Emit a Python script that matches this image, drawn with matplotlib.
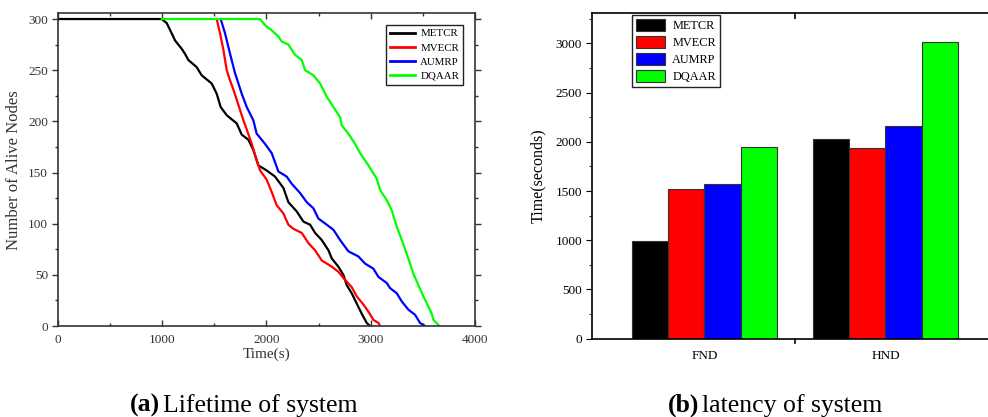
import numpy as np
import matplotlib
matplotlib.use("Agg")
import matplotlib.pyplot as plt
from matplotlib.ticker import MultipleLocator, FixedLocator

plt.rcParams['font.family'] = ['Liberation Serif', 'DejaVu Serif']

# ---- data: (a) lifetime, alive nodes vs time ----
metcr_t = [0, 997, 1045, 1093, 1125, 1188, 1220, 1252, 1332, 1380, 1476, 1524, 1562, 1620,
           1716, 1764, 1828, 1875, 1923, 2003, 2083, 2163, 2211, 2291, 2355, 2419, 2467,
           2531, 2595, 2627, 2690, 2738, 2770, 2818, 2866, 2914, 2962, 2994]
metcr_n = [300, 300, 296, 286, 279, 271, 266, 260, 253, 245, 237, 227, 214, 206,
           198, 187, 182, 172, 157, 152, 146, 135, 121, 112, 102, 99, 91,
           84, 74, 66, 58, 50, 40, 32, 22, 12, 3, 0]

mvecr_t = [1524, 1556, 1588, 1620, 1652, 1684, 1716, 1748, 1780, 1812, 1860, 1908, 1940,
           2003, 2051, 2099, 2163, 2211, 2259, 2339, 2403, 2467, 2531, 2627, 2690, 2738,
           2818, 2866, 2930, 2978, 3026, 3074, 3090]
mvecr_n = [300, 286, 270, 250, 240, 231, 221, 211, 201, 192, 178, 162, 152,
           143, 131, 118, 110, 99, 95, 91, 81, 74, 64, 58, 53, 47,
           38, 29, 21, 14, 6, 3, 0]

aumrp_t = [1562, 1604, 1652, 1700, 1764, 1812, 1875, 1907, 1987, 2051, 2115, 2195, 2243,
           2323, 2387, 2451, 2499, 2579, 2643, 2707, 2786, 2882, 2946, 3026, 3074, 3154,
           3186, 3250, 3298, 3361, 3425, 3473, 3521]
aumrp_n = [300, 286, 266, 247, 227, 214, 201, 188, 178, 169, 151, 146, 139,
           130, 121, 115, 105, 99, 94, 84, 73, 68, 61, 56, 48, 42,
           37, 32, 24, 16, 11, 3, 0]

dqaar_t = [1000, 1939, 1987, 2051, 2115, 2147, 2211, 2275, 2339, 2371, 2451, 2515, 2579,
           2643, 2707, 2723, 2786, 2850, 2898, 2978, 3058, 3090, 3154, 3202, 3250, 3298,
           3361, 3409, 3457, 3505, 3553, 3585, 3601, 3649, 3658]
dqaar_n = [300, 300, 294, 289, 283, 278, 275, 265, 260, 250, 245, 237, 224,
           214, 204, 196, 188, 178, 169, 157, 144, 133, 123, 113, 97, 84,
           66, 51, 40, 29, 19, 12, 6, 1, 0]

# ---- data: (b) latency ----
groups = ["FND", "HND"]
methods = ["METCR", "MVECR", "AUMRP", "DQAAR"]
latency = {
    "METCR": [990, 2030],
    "MVECR": [1522, 1940],
    "AUMRP": [1572, 2158],
    "DQAAR": [1945, 3018],
}
colors = ["#000000", "#ff0000", "#0000ff", "#00ff00"]

fig = plt.figure(figsize=(9.88, 4.17), dpi=100)

# ---------- (a) ----------
ax1 = fig.add_axes([0.0584, 0.2182, 0.4224, 0.7499])
series = [(metcr_t, metcr_n), (mvecr_t, mvecr_n), (aumrp_t, aumrp_n), (dqaar_t, dqaar_n)]
for (t, n), name, c in zip(series, methods, colors):
    ax1.plot(t, n, color=c, lw=1.6, label=name)

ax1.set_xlim(0, 4000)
ax1.set_ylim(0, 305.6)
ax1.xaxis.set_major_locator(MultipleLocator(1000))
ax1.xaxis.set_minor_locator(MultipleLocator(500))
ax1.yaxis.set_major_locator(MultipleLocator(50))
ax1.yaxis.set_minor_locator(MultipleLocator(25))
ax1.tick_params(axis='both', which='both', top=True, right=True, labelsize=9.5, width=1,
                color='#333333', labelcolor='#333333')
ax1.tick_params(axis='x', which='major', direction='in', length=4, pad=6)
ax1.tick_params(axis='x', which='minor', direction='in', length=2.5)
ax1.tick_params(axis='y', which='major', direction='out', length=4, pad=3)
ax1.tick_params(axis='y', which='minor', direction='out', length=2.5)
for s in ax1.spines.values():
    s.set_linewidth(1.2)
    s.set_color('#333333')
ax1.set_xlabel("Time(s)", fontsize=11, labelpad=1, color='#333333')
ax1.set_ylabel("Number of Alive Nodes", fontsize=12, labelpad=4, color='#333333')
leg1 = ax1.legend(loc='upper left', bbox_to_anchor=(0.787, 0.9626), borderaxespad=0,
                  fontsize=7.8, handlelength=2.3, handletextpad=0.5, labelspacing=0.42,
                  borderpad=0.35, fancybox=False, edgecolor='#222222', framealpha=1)
leg1.get_frame().set_linewidth(1.0)
for line in leg1.get_lines():
    line.set_linewidth(2.0)

# ---------- (b) ----------
ax2 = fig.add_axes([0.5989, 0.1878, 0.4111, 0.7803])
x = np.arange(1, len(groups) + 1)
w = 0.2
for i, (m, c) in enumerate(zip(methods, colors)):
    ax2.bar(x + (i - 1.5) * w, latency[m], width=w, color=c, edgecolor='#333333',
            linewidth=0.8, label=m)

ax2.set_xlim(0.377, 2.621)
ax2.set_ylim(0, 3305)
ax2.set_xticks(x)
ax2.set_xticklabels(groups)
ax2.xaxis.set_minor_locator(FixedLocator([1.5]))
ax2.yaxis.set_major_locator(MultipleLocator(500))
ax2.yaxis.set_minor_locator(MultipleLocator(250))
ax2.tick_params(axis='x', which='major', length=0, pad=8, labelsize=9.5)
ax2.tick_params(axis='x', which='minor', direction='in', length=4, top=True, bottom=False, width=1.2)
ax2.tick_params(axis='y', which='major', direction='out', length=4, labelsize=9.5, pad=3)
ax2.tick_params(axis='y', which='minor', direction='out', length=2.5)
for s in ax2.spines.values():
    s.set_linewidth(1.2)
ax2.set_ylabel("Time(seconds)", fontsize=11.5, labelpad=7)
# bottom tick at the group divider, pointing out
ax2.plot([1.5, 1.5], [0, -0.012], transform=ax2.get_xaxis_transform(), color='black',
         lw=1.2, clip_on=False)
leg2 = ax2.legend(loc='upper left', bbox_to_anchor=(0.0992, 0.9948), borderaxespad=0,
                  fontsize=8.8, handlelength=2.4, handleheight=1.2, handletextpad=0.6,
                  labelspacing=0.3, borderpad=0.3, fancybox=False, edgecolor='#222222',
                  framealpha=1)
leg2.get_frame().set_linewidth(1.0)

# ---------- captions ----------
fig.text(130 / 988, 5 / 417, "(a)", fontsize=18.5, fontweight='bold', ha='left', va='baseline')
fig.text(163 / 988, 5 / 417, "Lifetime of system", fontsize=18.5, ha='left', va='baseline')
fig.text(668 / 988, 5 / 417, "(b)", fontsize=18.5, fontweight='bold', ha='left', va='baseline')
fig.text(702 / 988, 5 / 417, "latency of system", fontsize=18.5, ha='left', va='baseline')

fig.savefig("out.png", dpi=100)
